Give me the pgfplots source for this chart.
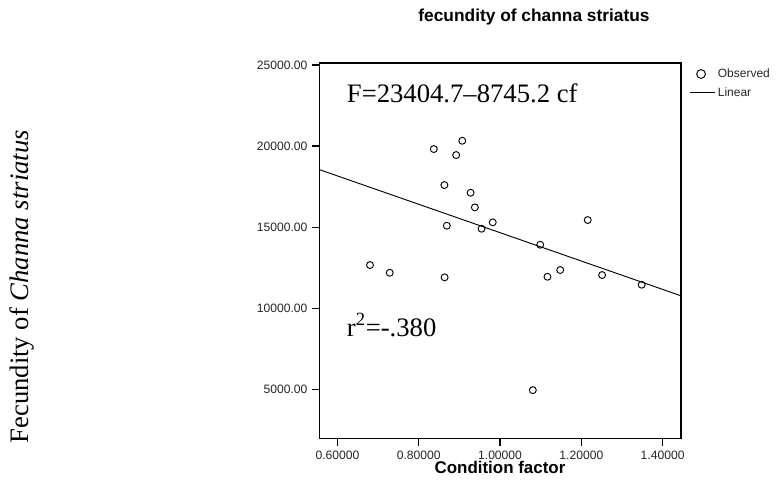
\documentclass[border=0pt]{standalone}
\usepackage{pgfplots}
\pgfplotsset{compat=1.18}
\usepackage{fontspec}
\setmainfont{Liberation Sans}
\newfontfamily\timesf{Liberation Serif}
\begin{document}
\begin{tikzpicture}
\useasboundingbox (0,0) rectangle (585pt,366pt);
\begin{axis}[
  at={(239.6pt,37.1pt)}, anchor=south west,
  scale only axis, width=271.1pt, height=281.6pt,
  xmin=0.5557, xmax=1.445, ymin=1967, ymax=25117,
  xtick={0.6,0.8,1.0,1.2,1.4},
  ytick={5000,10000,15000,20000,25000},
  xtick pos=bottom, ytick pos=left,
  tick align=outside, major tick length=5.5pt,
  scaled x ticks=false, scaled y ticks=false,
  /pgf/number format/assume math mode=true,
  x tick label style={/pgf/number format/.cd, fixed, fixed zerofill, precision=5, /tikz/.cd},
  y tick label style={/pgf/number format/.cd, fixed, fixed zerofill, precision=2, 1000 sep={}, /tikz/.cd},
  ticklabel style={font=\fontsize{9.1}{10}\selectfont, text=black!85},
  axis line style={line width=0.9pt},
  every tick/.style={line width=0.9pt, black},
  legend style={draw=none, fill=none, at={(1,1)}, anchor=north west,
    xshift=6pt, yshift=-2pt, font=\fontsize{9}{10}\selectfont,
    row sep=2pt, inner sep=0pt, text=black!85},
  legend cell align=left,
  clip=false,
]
\addplot[only marks, mark=o, mark size=2.6pt, mark options={line width=0.7pt, black},
  legend image code/.code={\draw[black, line width=0.7pt] (0.3cm,0cm) circle (3.3pt);}]
coordinates {
(0.837,19815) (0.907,20326) (0.892,19445) (0.863,17595) (0.9275,17120)
(0.938,16220) (0.869,15086) (0.982,15296) (0.9545,14901) (1.0988,13915)
(1.2157,15437) (0.680,12663) (0.7285,12188) (0.8636,11905) (1.1167,11942)
(1.148,12355) (1.251,12047) (1.3484,11449) (1.0806,4950)
};
\addlegendentry{Observed}
\addplot[black, line width=0.7pt,
  legend image code/.code={\draw[black, line width=0.7pt] (0cm,0cm) -- (0.66cm,0cm);}]
coordinates {(0.5557,18545.0) (1.445,10767.9)};
\addlegendentry{Linear}
\end{axis}
\node[anchor=west, inner sep=0pt, font=\timesf\fontsize{20}{22}\selectfont] at (260pt,296.25pt) {F=23404.7–8745.2 cf};
\node[anchor=west, inner sep=0pt, font=\timesf\fontsize{20}{22}\selectfont] at (260pt,122.25pt) {r\textsuperscript{2}=-.380};
\node[font=\bfseries\fontsize{13}{15}\selectfont] at (400.5pt,353.5pt) {fecundity of channa striatus};
\node[font=\bfseries\fontsize{12.7}{14}\selectfont] at (375pt,15.2pt) {Condition factor};
\node[rotate=90, font=\timesf\fontsize{20}{22}\selectfont] at (16.3pt,151pt) {Fecundity of \textit{Channa striatus}};
\end{tikzpicture}
\end{document}
